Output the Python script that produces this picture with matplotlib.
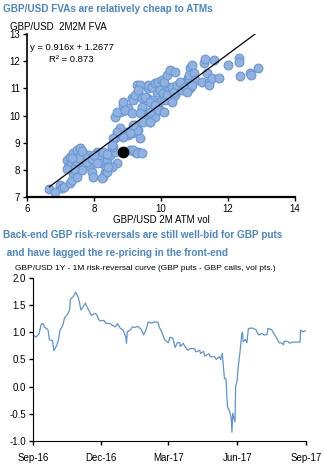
import pandas as pd
import numpy as np
import matplotlib
matplotlib.use('Agg')
import matplotlib.pyplot as plt
import matplotlib.dates as mdates

plt.rcParams['font.family'] = ['Liberation Sans', 'DejaVu Sans']

# scatter: GBP/USD 2M ATM vol vs 2M2M FVA
atm_vol = [6.67, 6.84, 6.99, 7.04, 7.10, 7.28, 7.33, 7.18, 7.23, 7.28, 7.38, 7.48, 7.58, 7.63, 7.53,
           7.38, 7.48, 7.63, 7.73, 7.83, 7.88, 7.93, 7.98, 8.08, 8.08, 8.18, 8.28, 8.23, 8.28, 8.33,
           8.38, 8.48, 8.53, 8.63, 8.58, 8.68, 8.53, 7.30, 7.45, 7.60, 7.70, 7.80, 7.55, 7.40, 7.95,
           8.10, 8.00, 8.40, 8.35, 7.65, 7.20, 7.35, 8.23, 8.38, 8.43, 9.07, 9.22, 9.32, 9.17, 9.27,
           9.42, 8.63, 8.73, 8.88, 8.98, 9.02, 9.12, 8.78, 8.63, 8.78, 8.93, 8.88, 9.02, 9.12, 9.22,
           9.27, 9.37, 9.32, 9.47, 9.57, 9.42, 9.52, 9.57, 9.67, 9.22, 9.32, 9.37, 9.62, 9.77, 9.87,
           9.92, 10.02, 9.97, 9.97, 9.87, 9.72, 9.77, 9.82, 8.70, 8.88, 8.93, 9.12, 9.17, 9.22, 9.32,
           9.42, 9.52, 9.62, 9.72, 9.82, 9.92, 10.02, 9.97, 10.07, 10.17, 10.22, 10.32, 10.42, 10.52,
           10.62, 10.72, 10.82, 10.87, 9.67, 9.82, 9.92, 9.67, 9.42, 9.37, 9.47, 9.27, 9.17, 9.67,
           9.07, 8.88, 8.68, 8.58, 8.53, 10.08, 10.13, 10.08, 10.18, 10.28, 10.43, 10.23, 10.33,
           10.18, 10.38, 10.33, 10.48, 10.58, 10.63, 10.73, 10.78, 10.83, 10.87, 10.93, 10.83,
           10.98, 11.02, 10.93, 11.22, 11.27, 11.32, 11.37, 11.42, 11.42, 11.52, 11.57, 11.72,
           12.00, 12.32, 12.32, 12.37, 12.67, 12.70, 12.90]
fva = [7.28, 7.20, 7.44, 7.32, 7.38, 7.50, 7.63, 8.36, 8.12, 8.48, 8.61, 8.73, 8.79, 8.48, 8.24,
       7.87, 7.75, 7.99, 8.36, 8.55, 8.12, 7.93, 7.75, 8.42, 8.67, 8.55, 8.67, 8.24, 7.75, 7.93,
       8.36, 8.55, 8.79, 8.67, 8.85, 8.24, 8.12, 8.20, 8.30, 8.60, 8.50, 8.30, 8.45, 8.05, 8.40,
       8.25, 8.55, 8.60, 8.10, 8.70, 8.05, 8.45, 7.69, 7.93, 8.12, 8.73, 8.67, 8.67, 8.73, 8.63,
       8.61, 9.16, 9.34, 9.28, 9.40, 9.28, 9.34, 9.53, 9.95, 10.14, 10.20, 10.39, 10.26, 10.63, 10.69,
       11.12, 11.12, 10.88, 10.63, 10.63, 10.26, 10.02, 9.83, 9.77, 9.65, 9.47, 9.16, 11.00, 11.12, 10.88,
       10.51, 10.57, 10.20, 11.25, 11.18, 10.57, 10.20, 9.95, 10.14, 10.51, 10.20, 10.08, 10.57, 10.75, 10.94,
       10.63, 10.69, 11.12, 11.06, 11.18, 11.25, 11.31, 10.94, 10.82, 11.06, 10.69, 10.57, 10.75, 10.94,
       11.18, 11.25, 11.37, 11.00, 10.51, 10.39, 10.20, 10.14, 10.32, 10.08, 9.77, 9.47, 9.65, 9.77,
       9.34, 9.22, 9.40, 9.16, 8.91, 10.14, 10.57, 11.25, 11.49, 11.67, 11.61, 10.94, 11.06,
       10.75, 10.88, 10.51, 11.12, 11.25, 10.94, 11.06, 10.88, 11.37, 11.74, 11.86, 11.49,
       11.55, 11.31, 11.12, 11.25, 11.92, 12.07, 11.55, 11.25, 11.12, 11.37, 12.04, 11.37,
       11.86, 12.13, 11.98, 11.45, 11.55, 11.49, 11.74]
current_vol, current_fva = 8.86, 8.64
slope, intercept, r2 = 0.916, 1.2677, 0.873

# risk-reversal curve
rr_dates = ['2016-09-01', '2016-09-05', '2016-09-07', '2016-09-09', '2016-09-12', '2016-09-15', '2016-09-16',
            '2016-09-19', '2016-09-21', '2016-09-23', '2016-09-27', '2016-09-29', '2016-10-03', '2016-10-05',
            '2016-10-07', '2016-10-11', '2016-10-13', '2016-10-18', '2016-10-20', '2016-10-21', '2016-10-25',
            '2016-10-27', '2016-10-28', '2016-10-31', '2016-11-02', '2016-11-04', '2016-11-07', '2016-11-10',
            '2016-11-11', '2016-11-16', '2016-11-18', '2016-11-23', '2016-11-25', '2016-11-28', '2016-11-30',
            '2016-12-05', '2016-12-07', '2016-12-13', '2016-12-16', '2016-12-20', '2016-12-23', '2016-12-27',
            '2016-12-30', '2017-01-03', '2017-01-04', '2017-01-05', '2017-01-09', '2017-01-12', '2017-01-16',
            '2017-01-18', '2017-01-20', '2017-01-24', '2017-01-27', '2017-01-30', '2017-02-02', '2017-02-07',
            '2017-02-09', '2017-02-15', '2017-02-17', '2017-02-20', '2017-02-24', '2017-03-01', '2017-03-03',
            '2017-03-07', '2017-03-10', '2017-03-13', '2017-03-16', '2017-03-17', '2017-03-21', '2017-03-23',
            '2017-03-27', '2017-03-30', '2017-04-05', '2017-04-07', '2017-04-12', '2017-04-13', '2017-04-17',
            '2017-04-19', '2017-04-24', '2017-04-26', '2017-05-02', '2017-05-04', '2017-05-08', '2017-05-10',
            '2017-05-12', '2017-05-15', '2017-05-17', '2017-05-19', '2017-05-22', '2017-05-24', '2017-05-25',
            '2017-05-26', '2017-05-29', '2017-05-30', '2017-06-01', '2017-06-02', '2017-06-05', '2017-06-07',
            '2017-06-08', '2017-06-09', '2017-06-12', '2017-06-14', '2017-06-16', '2017-06-21', '2017-06-26',
            '2017-06-28', '2017-06-30', '2017-07-04', '2017-07-07', '2017-07-11', '2017-07-12', '2017-07-17',
            '2017-07-20', '2017-07-24', '2017-07-27', '2017-07-31', '2017-08-02', '2017-08-03', '2017-08-08',
            '2017-08-10', '2017-08-14', '2017-08-21', '2017-08-24', '2017-08-25', '2017-08-28', '2017-08-31']
rr_values = [0.95, 0.91, 0.94, 0.97, 1.15, 1.16, 1.10, 1.07, 1.05, 0.86, 0.85, 0.66, 0.77, 0.86,
             1.04, 1.13, 1.26, 1.35, 1.42, 1.61, 1.66, 1.71, 1.74, 1.66, 1.56, 1.41, 1.47, 1.54,
             1.50, 1.37, 1.31, 1.35, 1.33, 1.23, 1.21, 1.22, 1.17, 1.16, 1.13, 1.10, 1.16, 1.07,
             1.05, 0.92, 0.80, 1.01, 1.04, 1.10, 1.09, 1.11, 1.10, 1.05, 0.95, 1.04, 1.19, 1.17,
             1.19, 1.19, 1.09, 1.01, 0.86, 0.81, 0.91, 0.89, 0.72, 0.81, 0.81, 0.74, 0.80, 0.74,
             0.67, 0.70, 0.70, 0.64, 0.67, 0.61, 0.65, 0.56, 0.61, 0.55, 0.55, 0.50, 0.55, 0.50,
             0.61, 0.15, 0.15, -0.37, -0.46, -0.58, -0.84, -0.49, -0.65, 0.01, 0.12, 0.31, 0.67, 0.95,
             1.00, 0.83, 0.87, 0.81, 1.07, 1.08, 1.05, 0.99, 0.95, 0.98, 0.95, 0.96, 1.07, 1.05,
             0.98, 0.89, 0.81, 0.80, 0.77, 0.84, 0.83, 0.80, 0.82, 0.82, 0.82, 1.04, 1.01, 1.03]
rr_ticks = ['2016-09-01', '2016-12-01', '2017-03-01', '2017-06-01', '2017-09-01']

title_col = '#4a86c5'

fig = plt.figure(figsize=(3.24, 4.68), dpi=100)

# ---- top: scatter ----
ax1 = fig.add_axes([0.0833, 0.579, 0.8272, 0.3483])
ax1.scatter(atm_vol, fva, s=40, c='#8fb2e0', edgecolors='#6b97d4', linewidths=0.8, zorder=2)
xs = np.array([min(atm_vol), max(atm_vol)])
ax1.plot(xs, slope * xs + intercept, color='black', lw=0.9, zorder=3)
ax1.scatter([current_vol], [current_fva], s=55, c='black', zorder=4)
ax1.set_xlim(6, 14)
ax1.set_ylim(7, 13)
ax1.set_xticks([6, 8, 10, 12, 14])
ax1.set_yticks(range(7, 14))
for s in ['top', 'right']:
    ax1.spines[s].set_visible(False)
ax1.spines['left'].set_linewidth(1.2)
ax1.spines['bottom'].set_linewidth(1.6)
ax1.tick_params(labelsize=7, length=3, width=1, pad=2)
ax1.set_xlabel('GBP/USD 2M ATM vol', fontsize=7, labelpad=1)
ax1.text(0.166, 0.916, 'y = 0.916x + 1.2677', transform=ax1.transAxes, fontsize=6.8, ha='center', va='center')
ax1.text(0.166, 0.845, 'R² = 0.873', transform=ax1.transAxes, fontsize=6.8, ha='center', va='center')
fig.text(10 / 324, 1 - 27 / 468, 'GBP/USD  2M2M FVA', fontsize=7, va='center')
fig.text(3 / 324, 1 - 9 / 468, 'GBP/USD FVAs are relatively cheap to ATMs', fontsize=7.2,
         fontweight='bold', color=title_col, va='center')

# ---- bottom: risk reversal ----
fig.text(3 / 324, 1 - 235 / 468, 'Back-end GBP risk-reversals are still well-bid for GBP puts', fontsize=7.2,
         fontweight='bold', color=title_col, va='center')
fig.text(4 / 324, 1 - 253 / 468, ' and have lagged the re-pricing in the front-end', fontsize=7.2,
         fontweight='bold', color=title_col, va='center')
fig.text(15 / 324, 1 - 268 / 468, 'GBP/USD 1Y - 1M risk-reversal curve (GBP puts - GBP calls, vol pts.)',
         fontsize=6, va='center')

ax2 = fig.add_axes([0.1019, 0.0577, 0.8425, 0.3483])
ax2.plot(pd.to_datetime(rr_dates), rr_values, color='#5b93d3', lw=0.9)
ax2.set_ylim(-1.0, 2.0)
ax2.set_yticks(np.arange(-1.0, 2.01, 0.5))
ax2.yaxis.set_major_formatter(plt.FormatStrFormatter('%.1f'))
ax2.set_xlim(pd.Timestamp(rr_ticks[0]), pd.Timestamp(rr_ticks[-1]))
ax2.set_xticks(pd.to_datetime(rr_ticks))
ax2.xaxis.set_major_formatter(mdates.DateFormatter('%b-%y'))
for s in ['top', 'right']:
    ax2.spines[s].set_visible(False)
ax2.tick_params(labelsize=7, length=3, width=1, pad=2)
ax2.tick_params(axis='x', pad=6)

fig.savefig('out.png', dpi=100)
